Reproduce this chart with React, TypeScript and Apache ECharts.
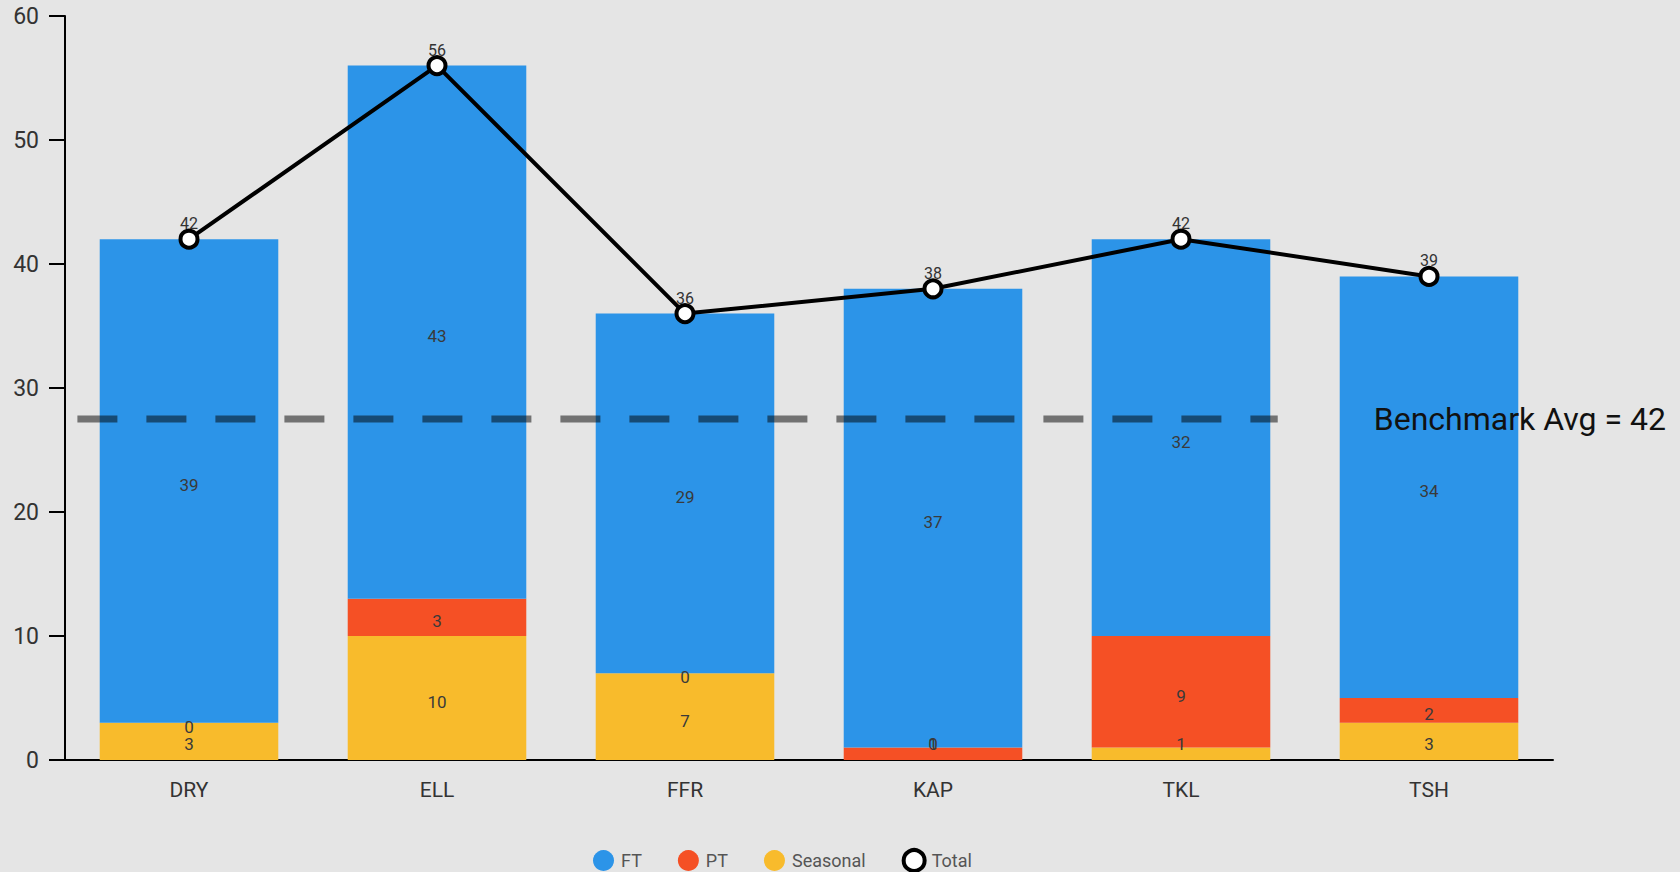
import React, { useEffect, useRef } from "react";
import * as echarts from "echarts";

const categories = ["DRY", "ELL", "FFR", "KAP", "TKL", "TSH"];
const seasonal = [3, 10, 7, 0, 1, 3];
const pt = [0, 3, 0, 1, 9, 2];
const ft = [39, 43, 29, 37, 32, 34];
const total = [42, 56, 36, 38, 42, 39];
const benchmarkValue = 27.5;
const benchmarkStart = 0.05;
const benchmarkEnd = 4.89;
const benchmarkText = "Benchmark Avg = 42";
const yTicks = { min: 0, max: 60, interval: 10 };

const FONT = "Roboto, 'Noto Sans', sans-serif";
const GRID_BOTTOM_Y = 872 - 112;

export default function App() {
  const ref = useRef<HTMLDivElement>(null);
  useEffect(() => {
    document.body.style.margin = "0";
    const chart = echarts.init(ref.current!, null, { renderer: "svg" });
    const barLabel = {
      show: true,
      position: "inside" as const,
      color: "#3a3a3a",
      fontSize: 17,
      fontFamily: FONT,
    };
    const barLabelLayout = (p: any) => {
      const r = p.labelRect;
      const cx = r.x + r.width / 2;
      const cy = r.y + r.height / 2 + 4;
      return {
        x: cx,
        y: Math.min(cy, GRID_BOTTOM_Y - 16),
        align: "center",
        verticalAlign: "middle",
      };
    };
    chart.setOption({
      animation: false,
      backgroundColor: "#e5e5e5",
      textStyle: { fontFamily: FONT },
      grid: { left: 65, right: 127, top: 16, bottom: 112, containLabel: false },
      legend: {
        left: 588,
        top: 843,
        itemWidth: 21,
        itemHeight: 21,
        itemGap: 36,
        textStyle: { fontSize: 18, color: "#555", fontFamily: FONT, padding: [0, 0, 0, 2] },
        data: [
          { name: "FT", icon: "circle" },
          { name: "PT", icon: "circle" },
          { name: "Seasonal", icon: "circle" },
          { name: "Total", icon: "circle", itemStyle: { color: "#fff", borderColor: "#000", borderWidth: 4 } },
        ],
      },
      xAxis: [
        {
          type: "category",
          data: categories,
          axisLine: { lineStyle: { color: "#000", width: 2 } },
          axisTick: { alignWithLabel: true, length: 15, lineStyle: { color: "#000", width: 2 } },
          axisLabel: { fontSize: 21, color: "#333", margin: 19, fontFamily: FONT },
        },
        { type: "value", min: 0, max: 6, show: false },
      ],
      yAxis: {
        type: "value",
        min: yTicks.min,
        max: yTicks.max,
        interval: yTicks.interval,
        splitLine: { show: false },
        axisLine: { show: true, lineStyle: { color: "#000", width: 2 } },
        axisTick: { show: true, length: 16, lineStyle: { color: "#000", width: 2 } },
        axisLabel: { fontSize: 23, color: "#333", margin: 26, fontFamily: FONT },
      },
      series: [
        {
          name: "Seasonal",
          type: "bar",
          stack: "s",
          data: seasonal,
          barCategoryGap: "28%",
          itemStyle: { color: "#f8bb2c" },
          label: barLabel,
          labelLayout: barLabelLayout,
        },
        {
          name: "PT",
          type: "bar",
          stack: "s",
          data: pt,
          itemStyle: { color: "#f55025" },
          label: barLabel,
          labelLayout: barLabelLayout,
        },
        {
          name: "FT",
          type: "bar",
          stack: "s",
          data: ft,
          itemStyle: { color: "#2c94e8" },
          label: barLabel,
          labelLayout: barLabelLayout,
        },
        {
          name: "Benchmark",
          type: "line",
          xAxisIndex: 1,
          data: [
            [benchmarkStart, benchmarkValue],
            [benchmarkEnd, benchmarkValue],
          ],
          symbol: "none",
          silent: true,
          lineStyle: { color: "rgba(0,0,0,0.5)", width: 7, type: [40, 29] },
          endLabel: {
            show: true,
            formatter: benchmarkText,
            distance: 96,
            fontSize: 32,
            color: "#111",
            fontFamily: FONT,
          },
          z: 3,
        },
        {
          name: "Total",
          type: "line",
          data: total,
          symbol: "circle",
          symbolSize: 17,
          lineStyle: { color: "#000", width: 4 },
          itemStyle: { color: "#fff", borderColor: "#000", borderWidth: 4 },
          label: {
            show: true,
            position: "top",
            distance: -3,
            fontSize: 16,
            color: "#333",
            fontFamily: FONT,
          },
          z: 4,
        },
      ],
    });
    return () => chart.dispose();
  }, []);
  return <div ref={ref} style={{ width: 1680, height: 872 }} />;
}
